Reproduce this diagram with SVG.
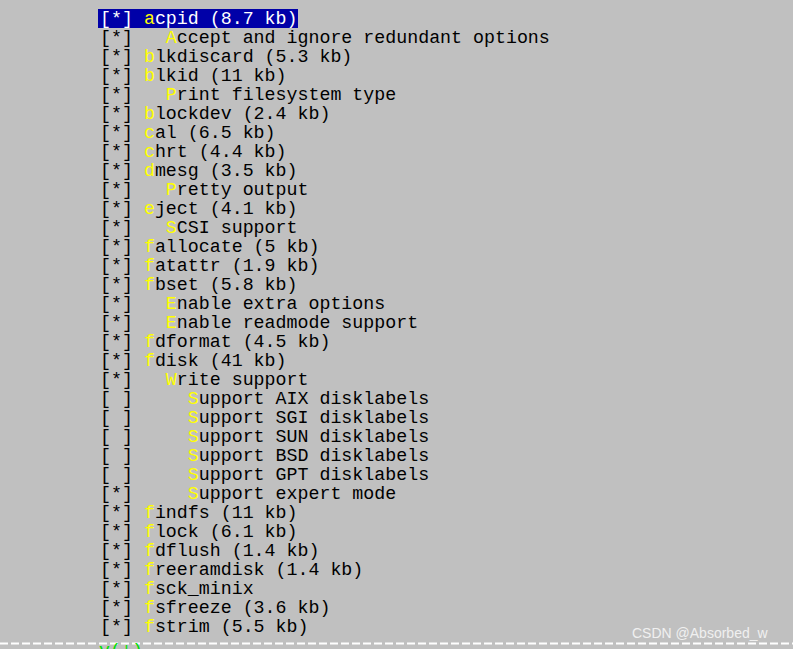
<svg xmlns="http://www.w3.org/2000/svg" width="793" height="649" viewBox="0 0 793 649">
<style>
text{font-family:"Liberation Mono","DejaVu Sans Mono",monospace;font-size:18.3px;fill:#000;white-space:pre}
.y{fill:#ffff00}
.w{fill:#fff}
</style>
<rect width="793" height="649" fill="#c0c0c0"/>
<rect x="98" y="9" width="200" height="19" fill="#0000a8"/>
<g id="menu">
<text x="100" y="24" class="w">[*] <tspan class="y">a</tspan>cpid (8.7 kb)</text>
<text x="100" y="43">[*]   <tspan class="y">A</tspan>ccept and ignore redundant options</text>
<text x="100" y="62">[*] <tspan class="y">b</tspan>lkdiscard (5.3 kb)</text>
<text x="100" y="81">[*] <tspan class="y">b</tspan>lkid (11 kb)</text>
<text x="100" y="100">[*]   <tspan class="y">P</tspan>rint filesystem type</text>
<text x="100" y="119">[*] <tspan class="y">b</tspan>lockdev (2.4 kb)</text>
<text x="100" y="138">[*] <tspan class="y">c</tspan>al (6.5 kb)</text>
<text x="100" y="157">[*] <tspan class="y">c</tspan>hrt (4.4 kb)</text>
<text x="100" y="176">[*] <tspan class="y">d</tspan>mesg (3.5 kb)</text>
<text x="100" y="195">[*]   <tspan class="y">P</tspan>retty output</text>
<text x="100" y="214">[*] <tspan class="y">e</tspan>ject (4.1 kb)</text>
<text x="100" y="233">[*]   <tspan class="y">S</tspan>CSI support</text>
<text x="100" y="252">[*] <tspan class="y">f</tspan>allocate (5 kb)</text>
<text x="100" y="271">[*] <tspan class="y">f</tspan>atattr (1.9 kb)</text>
<text x="100" y="290">[*] <tspan class="y">f</tspan>bset (5.8 kb)</text>
<text x="100" y="309">[*]   <tspan class="y">E</tspan>nable extra options</text>
<text x="100" y="328">[*]   <tspan class="y">E</tspan>nable readmode support</text>
<text x="100" y="347">[*] <tspan class="y">f</tspan>dformat (4.5 kb)</text>
<text x="100" y="366">[*] <tspan class="y">f</tspan>disk (41 kb)</text>
<text x="100" y="385">[*]   <tspan class="y">W</tspan>rite support</text>
<text x="100" y="404">[ ]     <tspan class="y">S</tspan>upport AIX disklabels</text>
<text x="100" y="423">[ ]     <tspan class="y">S</tspan>upport SGI disklabels</text>
<text x="100" y="442">[ ]     <tspan class="y">S</tspan>upport SUN disklabels</text>
<text x="100" y="461">[ ]     <tspan class="y">S</tspan>upport BSD disklabels</text>
<text x="100" y="480">[ ]     <tspan class="y">S</tspan>upport GPT disklabels</text>
<text x="100" y="499">[*]     <tspan class="y">S</tspan>upport expert mode</text>
<text x="100" y="518">[*] <tspan class="y">f</tspan>indfs (11 kb)</text>
<text x="100" y="537">[*] <tspan class="y">f</tspan>lock (6.1 kb)</text>
<text x="100" y="556">[*] <tspan class="y">f</tspan>dflush (1.4 kb)</text>
<text x="100" y="575">[*] <tspan class="y">f</tspan>reeramdisk (1.4 kb)</text>
<text x="100" y="594">[*] <tspan class="y">f</tspan>sck_minix</text>
<text x="100" y="613">[*] <tspan class="y">f</tspan>sfreeze (3.6 kb)</text>
<text x="100" y="632">[*] <tspan class="y">f</tspan>strim (5.5 kb)</text>
</g>
<line x1="0" y1="643.5" x2="793" y2="643.5" stroke="#fff" stroke-width="2" stroke-dasharray="8,3"/>
<text x="99" y="656" style="fill:#00e000">v(+)</text>
<text x="632" y="638" style="font-family:'Liberation Sans',sans-serif;font-size:14px;fill:#f0f0f0">CSDN @Absorbed_w</text>
</svg>
